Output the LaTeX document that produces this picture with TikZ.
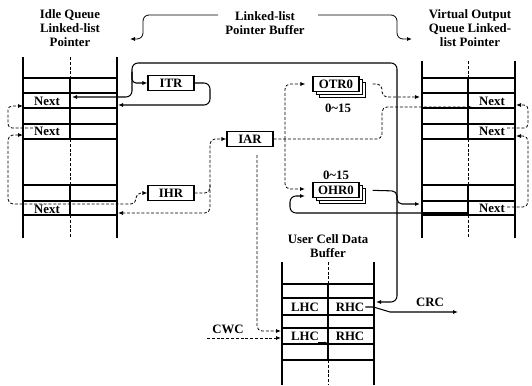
\documentclass[tikz,border=0pt]{standalone}
\usepackage{fontspec}
\setmainfont{Liberation Serif}
\usetikzlibrary{arrows.meta, shadows}

\begin{document}
\begin{tikzpicture}[x=1pt, y=-1pt,
    every node/.style={font=\bfseries\fontsize{12.8}{14}\selectfont},
    wire/.style={line width=1.05pt},
    dline/.style={line width=0.8pt, dash pattern=on 3pt off 1.8pt},
    tip/.style={-{Latex[length=5pt,width=4pt]}},
    tips/.style={{Latex[length=5pt,width=4pt]}-{Latex[length=5pt,width=4pt]}},
    regbox/.style={draw, line width=1.1pt, fill=white, minimum width=46pt,
                   minimum height=15pt, inner sep=1pt},
    stackbox/.style={regbox, double copy shadow={shadow xshift=3pt,
                   shadow yshift=-3pt, draw, line width=1pt, fill=white}},
    lbl/.style={inner sep=1pt}]
  \useasboundingbox (0,0) rectangle (532,385);

  % titles
  \node[align=center] (idletitle) at (70,28) {Idle Queue\\Linked-list\\Pointer};
  \node[align=center] (buftitle) at (265,23) {Linked-list\\Pointer Buffer};
  \node[align=center] (voqtitle) at (470,28) {Virtual Output\\Queue Linked-\\list Pointer};
  \node[align=center] (udtitle) at (328,246) {User Cell Data\\Buffer};
  \draw[line width=0.8pt, rounded corners=6pt, tip] (218,15) -- (143,15) -- (143,39) -- (130,39);
  \draw[line width=0.8pt, rounded corners=6pt, tip] (318,15) -- (397,15) -- (397,39) -- (412,39);

  % pointer tables
  \foreach \xa/\xm/\xb/\yt in {23/70/117/57, 422/468/515/61} {
    \foreach \y in {78,93,108,124,139,185,201,215}
      \draw[wire] (\xa,\y) -- (\xb,\y);
    \draw[wire] (\xa,\yt) -- (\xa,238) (\xb,\yt) -- (\xb,238);
    \draw[wire] (\xm,78) -- (\xm,139) (\xm,185) -- (\xm,215);
    \draw[dline] (\xm,\yt) -- (\xm,78) (\xm,139) -- (\xm,185) (\xm,215) -- (\xm,238);
  }
  \node[lbl] (inext1) at (47,101) {Next};
  \node[lbl] (inext2) at (47,131) {Next};
  \node[lbl] (inext3) at (47,209) {Next};
  \node[lbl] (vnext1) at (492,101) {Next};
  \node[lbl] (vnext2) at (492,131) {Next};
  \node[lbl] (vnext3) at (492,208) {Next};

  % data buffer
  \foreach \y in {284,298,315,328,344,360}
    \draw[wire] (282,\y) -- (374,\y);
  \draw[wire] (282,262) -- (282,385) (374,262) -- (374,385) (328,284) -- (328,360);
  \draw[dline] (328,262) -- (328,284) (328,360) -- (328,385);
  \node[lbl] (lhc1) at (305,307) {LHC};
  \node[lbl] (rhc1) at (350,307) {RHC};
  \node[lbl] (lhc2) at (305,336) {LHC};
  \node[lbl] (rhc2) at (350,336) {RHC};

  % registers
  \node[regbox] (itr) at (171,83) {ITR};
  \node[regbox] (ihr) at (171,193) {IHR};
  \node[regbox] (iar) at (250,139) {IAR};
  \node[stackbox] (otr) at (336,84) {OTR0};
  \node[stackbox] (ohr) at (336,190) {OHR0};
  \node (otrnum) at (338,108) {0\textasciitilde15};
  \node (ohrnum) at (336,175) {0\textasciitilde15};
  \node (crc) at (430,302) {CRC};
  \node (cwc) at (228,329) {CWC};

  \coordinate (inxt1) at (72,97);
  \coordinate (iedge1) at (118,105);
  \coordinate (iedge2) at (118,213);
  \coordinate (iloop1) at (23,106);
  \coordinate (iloop2) at (23,135);
  \coordinate (ilink2) at (33,128);
  \coordinate (vedge1) at (420,97);
  \coordinate (vedge2) at (420,204);
  \coordinate (vnxt1) at (472,107);
  \coordinate (vloop1) at (516,105);
  \coordinate (vloop2) at (516,136);
  \coordinate (vlink2) at (507,128);
  \coordinate (vlink3) at (507,207);
  \coordinate (vbot) at (468,213);
  \coordinate (rdin) at (376,302);
  \coordinate (wrin1) at (281,331);
  \coordinate (wrin2) at (281,338);
  \coordinate (cwcin) at (207,338);
  \coordinate (crcout) at (458,312);
  \coordinate (iarout) at (257,155);

  % solid pointer paths
  \draw[wire, rounded corners=6pt, tips] (inxt1) -| (132,63) -| (397,302) -- (rdin);
  \draw[wire, rounded corners=4pt, tip] (132,72) |- (itr.west);
  \draw[wire, rounded corners=6pt, tip] (itr.east) -| (210,105) -- (iedge1);
  \draw[wire, rounded corners=5pt, tip, shorten <=13pt] (ohr.east) -- (397,191) -- (397,204) -- (vedge2);
  \draw[wire, rounded corners=6pt, tip] (vbot) -- (290,213) -- (290,196) -- (305,196);
  \draw[line width=1.7pt] (422,213) -- (vbot);
  \draw[wire, tip] (rhc1.east) -- ++(8,0) -- (390,312) -- (crcout);
  \draw[wire, -{Latex[length=3.5pt,width=3pt]}] (318,343) -- (328,343);

  % dashed pointer paths
  \draw[dline, rounded corners=5pt, tip] (iar.east) -| (382,107) -- (vnxt1);
  \draw[dline, rounded corners=5pt, tip, shorten >=7pt] (285,139) |- (otr.west);
  \draw[dline, rounded corners=5pt, tip] (285,139) |- (305,189);
  \draw[dline, rounded corners=5pt, tip, shorten <=13pt] (otr.east) -- (382,84) -- (382,97) -- (vedge1);
  \draw[dline, rounded corners=5pt, tip] (ihr.east) -| (210,150) |- (iar.west);
  \draw[dline, rounded corners=5pt, tip] (210,185) |- (iedge2);
  \draw[dline, rounded corners=4pt, tip] (ilink2) -- (8,128) -- (8,106) -- (iloop1);
  \draw[dline, rounded corners=5pt, tips] (iloop2) -- (8,135) -- (8,204) -- (136,204) -- (136,193) -- (ihr.west);
  \draw[dline, rounded corners=4pt, tip] (vlink2) -- (528,128) -- (528,105) -- (vloop1);
  \draw[dline, rounded corners=5pt, tip] (vlink3) -- (528,207) -- (528,136) -- (vloop2);
  \draw[dline, rounded corners=5pt, tip] (iarout) |- (wrin1);
  \draw[dline, tip] (cwcin) -- (wrin2);
\end{tikzpicture}
\end{document}
